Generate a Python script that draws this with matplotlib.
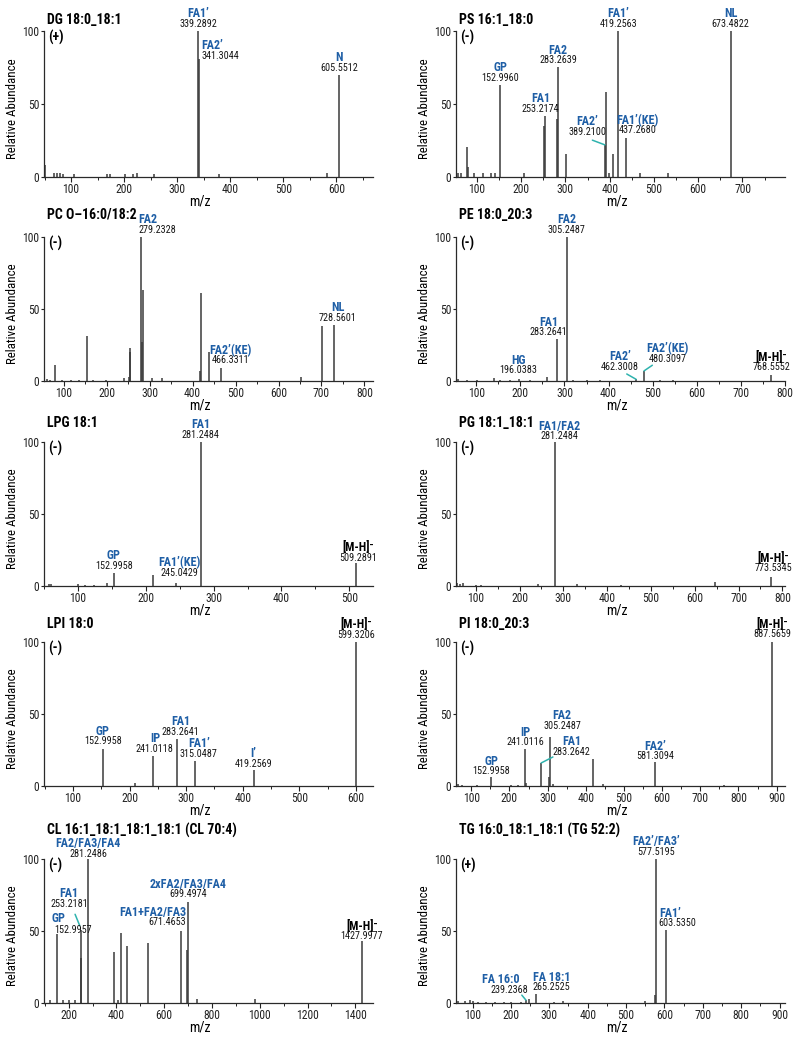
import matplotlib
matplotlib.use("Agg")
import matplotlib.pyplot as plt
from matplotlib import font_manager
from matplotlib.ticker import MultipleLocator

# the figure uses an Arial Narrow-like face; pick a condensed face if one is installed
cond = {}
for f in font_manager.fontManager.ttflist:
    fn = f.fname.lower()
    if ("narrow" in fn or "condensed" in fn) and "semi" not in fn and "extra" not in fn:
        cond.setdefault(f.name, f)
FONT, S = None, 0.84
for pref in ["Liberation Sans Narrow", "Arial Narrow", "Roboto Condensed", "Noto Sans",
             "Open Sans Condensed", "Open Sans", "DejaVu Sans"]:
    if pref in cond:
        FONT, S = pref, 1.0
        break
if FONT is None:
    FONT = "Liberation Sans"
else:
    plt.rcParams["font.stretch"] = "condensed"
if FONT == "DejaVu Sans":
    S = 0.9
plt.rcParams["font.family"] = [FONT, "DejaVu Sans"]

BLUE = "#1f5fa6"
TEAL = "#2fb3ae"
LINE = "#3a3a3a"

# ---------------- data (m/z, relative abundance) ----------------
dg_mz = [51, 67, 73, 78.5, 85, 105, 167, 174, 202, 216, 224, 256, 339.2892, 341.3044, 379, 583, 605.5512]
dg_int = [8, 3, 3, 2.5, 2, 2, 2, 2, 2, 2, 2.5, 2, 100, 81, 2, 3, 70]
dg_lab = [(339.2892, "FA1’", "339.2892"), (341.3044, "FA2’", "341.3044"), (605.5512, "N", "605.5512")]

ps_mz = [58, 63.5, 77, 79, 93.5, 113, 133, 141, 152.996, 206, 252.2, 253.2174, 281.2, 283.2639, 302,
         389.21, 391.2, 398, 407.5, 419.2563, 437.268, 467.5, 532, 673.4822]
ps_int = [2.5, 2.5, 20.5, 7, 2.5, 3, 3, 2.5, 63, 2.5, 35, 42, 40, 75, 15.5, 22, 58, 3, 16, 100, 27, 3, 3, 100]
ps_lab = [(152.996, "GP", "152.9960"), (253.2174, "FA1", "253.2174"), (283.2639, "FA2", "283.2639"),
          (389.21, "FA2’", "389.2100"), (419.2563, "FA1’", "419.2563"), (437.268, "FA1’(KE)", "437.2680"),
          (673.4822, "NL", "673.4822")]

pc_mz = [61, 68.7, 78.8, 96, 117, 136, 154, 168, 199, 241, 251, 253.2, 255.2, 279.2328, 281.5, 284, 305, 328,
         417, 419, 438, 466.3311, 652, 702, 728.5601]
pc_int = [1.5, 1, 11, 1, 1, 1, 31, 1, 1, 2, 3, 23, 20, 100, 27, 63, 2, 2, 7, 61, 20, 9, 3, 38, 39]
pc_lab = [(279.2328, "FA2", "279.2328"), (466.3311, "FA2’(KE)", "466.3311"), (728.5601, "NL", "728.5601")]

pe_mz = [59, 78, 101, 141, 154, 177, 196.0383, 222, 260, 283.2641, 305.2487, 320, 351, 381, 462.3008,
         480.3097, 517, 547, 768.5552]
pe_int = [1.5, 1, 1, 2, 1, 1, 1.5, 1, 2.5, 29, 100, 1, 1, 1, 1.2, 7, 1, 1, 4]
pe_lab = [(305.2487, "FA2", "305.2487"), (283.2641, "FA1", "283.2641"), (196.0383, "HG", "196.0383"),
          (462.3008, "FA2’", "462.3008"), (480.3097, "FA2’(KE)", "480.3097"), (768.5552, "[M-H]⁻", "768.5552")]

lpg_mz = [56.7, 60.6, 99.8, 110.6, 124.3, 143.5, 152.9958, 211, 245.0429, 281.2484, 509.2891]
lpg_int = [1.5, 1.5, 1.5, 1, 1, 2, 9, 7.6, 2, 100, 16]
lpg_lab = [(152.9958, "GP", "152.9958"), (245.0429, "FA1’(KE)", "245.0429"), (281.2484, "FA1", "281.2484"),
           (509.2891, "[M-H]⁻", "509.2891")]

pg_mz = [58, 64, 72, 101, 112, 242, 281.2484, 331, 432, 647, 773.5345]
pg_int = [2, 1.5, 2, 1, 1, 1.5, 100, 1.5, 1, 3, 6]
pg_lab = [(281.2484, "FA1/FA2", "281.2484"), (773.5345, "[M-H]⁻", "773.5345")]

lpi_mz = [152.9958, 210, 241.0118, 283.2641, 315.0487, 419.2569, 599.3206]
lpi_int = [25.5, 2, 21, 32.6, 17.4, 11, 100]
lpi_lab = [(152.9958, "GP", "152.9958"), (241.0118, "IP", "241.0118"), (283.2641, "FA1", "283.2641"),
           (315.0487, "FA1’", "315.0487"), (419.2569, "I’", "419.2569"), (599.3206, "[M-H]⁻", "599.3206")]

pi_mz = [64, 77, 115, 152.9958, 204, 222, 241.0116, 244, 283.2642, 303, 305.2487, 313, 419.3, 444,
         581.3094, 761, 887.5659]
pi_int = [1.5, 1, 1, 6, 1, 1, 26, 2, 16, 6, 34, 1.5, 18.5, 1.5, 17, 1, 100]
pi_lab = [(152.9958, "GP", "152.9958"), (241.0116, "IP", "241.0116"), (305.2487, "FA2", "305.2487"),
          (283.2642, "FA1", "283.2642"), (581.3094, "FA2’", "581.3094"), (887.5659, "[M-H]⁻", "887.5659")]

cl_mz = [124, 152.9957, 177, 200, 228, 252.2, 253.2181, 281.2486, 391, 405, 419, 445, 533, 671.4653,
         697.5, 699.4974, 739, 980, 1427.9977]
cl_int = [2, 48, 2, 2, 2, 31, 51, 100, 35.6, 2, 48.4, 39.5, 41.8, 50.2, 37, 70.4, 2.5, 2.5, 43]
cl_lab = [(281.2486, "FA2/FA3/FA4", "281.2486"), (253.2181, "FA1", "253.2181"), (152.9957, "GP", "152.9957"),
          (671.4653, "FA1+FA2/FA3", "671.4653"), (699.4974, "2xFA2/FA3/FA4", "699.4974"),
          (1427.9977, "[M-H]⁻", "1427.9977")]

tg_mz = [62.5, 80, 92.7, 101, 114, 136, 158, 183, 200, 226, 239.2368, 248, 265.2525, 311, 337, 550,
         575.8, 577.5195, 603.535]
tg_int = [1.5, 1.5, 2, 1.5, 1, 1, 1, 1, 1, 1, 2, 2.5, 6, 1, 1.5, 1.5, 5.4, 100, 51]
tg_lab = [(239.2368, "FA 16:0", "239.2368"), (265.2525, "FA 18:1", "265.2525"),
          (577.5195, "FA2’/FA3’", "577.5195"), (603.535, "FA1’", "603.5350")]

# ---------------- layout ----------------
# label placement (offset points); same order as the label lists
dg_pos = [{}, dict(ha="left", dx=1.5, dy=0), {}]
ps_pos = [{}, dict(dx=-3), {}, dict(dx=-12.5, dy=7.2, lead=(-9, 3.4)), {}, dict(dx=8), {}]
pc_pos = [dict(ha="left", dx=-1.5), dict(dx=7, dy=3.5), dict(dx=3)]
pe_pos = [{}, dict(dx=-6), dict(dy=4), dict(dx=-11.7, dy=7, lead=(-6.7, 3.8)),
          dict(dx=17, dy=6.7, lead=(6, 4.1)), dict(dy=3.6)]
lpg_pos = [{}, dict(dx=2.5, dy=5.3), {}, dict(dx=2, dy=1.7)]
pg_pos = [dict(dx=3, dy=2), dict(dx=1.7, dy=4.3)]
lpi_pos = [dict(dy=3.6), dict(dx=1.5), dict(dx=3), dict(dx=3), dict(dy=2.4), dict(dy=3)]
pi_pos = [dict(dy=2.4), dict(dy=2.4), dict(dx=9, dy=6), dict(dx=22, dy=6, lead=(8.4, 4.3)),
          dict(dy=1.5), dict(dy=3.6)]
cl_pos = [dict(dy=1.5), dict(dx=-8.9, dy=16.3, lead=(-4.5, 11), shrink=3),
          dict(ha="left", dx=-2.4, dy=0.5, nha="center", ndx=0.5, ndy=8.9),
          dict(ha="right", dx=3.4, dy=4), dict(dy=3), dict(dy=1.5)]
tg_pos = [dict(dx=-12, dy=5.3, ndx=-18, lead=(-3, 3.6)), dict(ha="left", dx=-2.4, dy=3),
          dict(dy=3), dict(ha="left", dx=-5, dy=2.4)]

panels = [
    ("DG 18:0_18:1", "(+)", dg_mz, dg_int, dg_lab, dg_pos, (49, 669), 100, 0, 0),
    ("PS 16:1_18:0", "(-)", ps_mz, ps_int, ps_lab, ps_pos, (53, 796), 100, 0, 1),
    ("PC O–16:0/18:2", "(-)", pc_mz, pc_int, pc_lab, pc_pos, (54, 820), 100, 1, 0),
    ("PE 18:0_20:3", "(-)", pe_mz, pe_int, pe_lab, pe_pos, (54, 800), 100, 1, 1),
    ("LPG 18:1", "(-)", lpg_mz, lpg_int, lpg_lab, lpg_pos, (50, 535), 100, 2, 0),
    ("PG 18:1_18:1", "(-)", pg_mz, pg_int, pg_lab, pg_pos, (55, 806), 100, 2, 1),
    ("LPI 18:0", "(-)", lpi_mz, lpi_int, lpi_lab, lpi_pos, (49, 630), 100, 3, 0),
    ("PI 18:0_20:3", "(-)", pi_mz, pi_int, pi_lab, pi_pos, (60, 922), 100, 3, 1),
    ("CL 16:1_18:1_18:1_18:1 (CL 70:4)", "(-)", cl_mz, cl_int, cl_lab, cl_pos, (97, 1474), 200, 4, 0),
    ("TG 16:0_18:1_18:1 (TG 52:2)", "(+)", tg_mz, tg_int, tg_lab, tg_pos, (57, 914), 100, 4, 1),
]

rows_px = [(31, 177), (237, 381), (442, 586), (642, 786), (859, 1003)]
cols_px = [(44, 373), (456, 785)]
title_dy = [5, 13, 11, 10.3, 17.8]
xlab_x = [0.474, 0.49]

W, H = 800, 1038
fig = plt.figure(figsize=(W / 100, H / 100), dpi=100)


def put_label(ax, mz, h, name, num, dx=0, dy=3, ha="center", lead=None, shrink=0,
              nha=None, ndx=None, ndy=None):
    col = "black" if name.startswith("[M") else BLUE
    ax.annotate(num, (mz, h), xytext=(dx, dy), textcoords="offset points", ha=ha, va="baseline",
                fontsize=7.3 * S, color="#151515", annotation_clip=False)
    ax.annotate(name, (mz, h), xytext=(dx if ndx is None else ndx, dy + 6.8 if ndy is None else ndy),
                textcoords="offset points", ha=nha or ha, va="baseline", fontsize=8.7 * S,
                fontweight="bold", color=col, annotation_clip=False)
    if lead:
        ax.annotate("", (mz, h), xytext=lead, textcoords="offset points", annotation_clip=False,
                    arrowprops=dict(arrowstyle="-", color=TEAL, lw=1.1, shrinkA=0, shrinkB=shrink))


for title, pol, mz, inten, labs, pos, xlim, step, r, c in panels:
    y0, y1 = rows_px[r]
    x0, x1 = cols_px[c]
    ax = fig.add_axes([x0 / W, 1 - y1 / H, (x1 - x0) / W, (y1 - y0) / H])
    ax.vlines(mz, 0, inten, colors=LINE, lw=1.1)
    ax.set_xlim(*xlim)
    ax.set_ylim(0, 100)
    for s in ("top", "right"):
        ax.spines[s].set_visible(False)
    for s in ("left", "bottom"):
        ax.spines[s].set_color("#2a2a2a")
        ax.spines[s].set_linewidth(0.9)
    ax.xaxis.set_major_locator(MultipleLocator(step))
    ax.xaxis.set_minor_locator(MultipleLocator(step / 2))
    ax.set_yticks([0, 50, 100])
    ax.tick_params(axis="x", which="major", length=3.5, width=0.8, pad=1.0, labelsize=8.4 * S, colors="#222")
    ax.tick_params(axis="x", which="minor", length=2, width=0.7, colors="#222")
    ax.tick_params(axis="y", length=2.5, width=0.8, pad=1, labelsize=8.4 * S, colors="#222")

    for (amz, name, num), p in zip(labs, pos):
        h = inten[min(range(len(mz)), key=lambda i: abs(mz[i] - amz))]
        put_label(ax, amz, h, name, num, **p)

    ax.annotate(title, (0, 1), xycoords="axes fraction", xytext=(2.5, title_dy[r]),
                textcoords="offset points", ha="left", va="baseline", fontsize=10 * S, fontweight="bold")
    ax.annotate(pol, (0, 1), xycoords="axes fraction", xytext=(3, 1), textcoords="offset points",
                ha="left", va="top", fontsize=10 * S, fontweight="bold")
    ax.annotate("Relative Abundance", (0, 0.47), xycoords="axes fraction", xytext=(-23, 0),
                textcoords="offset points", ha="center", va="center", rotation=90, fontsize=9.3 * S)
    ax.annotate("m/z", (xlab_x[c], 0), xycoords="axes fraction", xytext=(0, -20.5),
                textcoords="offset points", ha="center", va="baseline", fontsize=10 * S)

fig.savefig("out.png", dpi=100)
